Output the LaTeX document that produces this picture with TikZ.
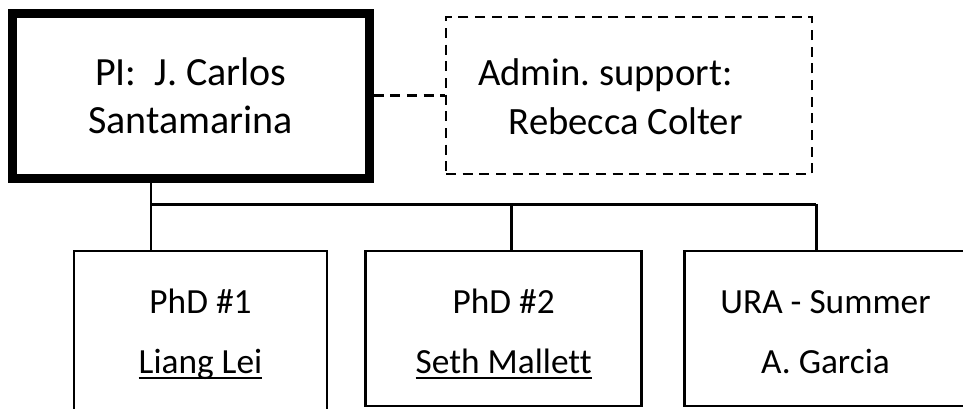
\documentclass[tikz,border=0pt]{standalone}
\usepackage{fontspec}
\setmainfont{Carlito}[Ligatures=NoCommon]
\frenchspacing
\usetikzlibrary{calc}

\newcommand{\ulname}[1]{\setbox0\hbox{#1}\rlap{\rule[-4.6pt]{\wd0}{1.8pt}}\box0}

\tikzset{every picture/.style={line width=2.2pt}}
\tikzset{
  pibox/.style={draw, line width=6.75pt, align=center, text height=56.25pt, text depth=0pt,
    font=\fontsize{30}{35.3}\selectfont},
  adminbox/.style={draw, line width=2pt, dash pattern=on 7.5pt off 5pt, align=flush left,
    inner xsep=24pt, text width=226.5pt, text height=21.4pt, text depth=37.1pt,
    font=\fontsize{29}{37.1}\selectfont},
  studentbox/.style={draw, line width=2.1pt, align=center, text depth=0pt,
    font=\fontsize{26.5}{45}\selectfont},
}

\begin{document}
\begin{tikzpicture}[x=0.75pt,y=0.75pt,yscale=-1,xscale=1]
\useasboundingbox (0,0) rectangle (963,408);

%Shape: Rectangle [id:pi]
\node [pibox, minimum width=267.4pt, minimum height=123.75pt] (pi) at (190.75,95.5) {PI:~~J. Carlos\\Santamarina};
%Shape: Rectangle [id:admin]
\node [adminbox, minimum height=117.75pt] (admin) at (629,95.5) {Admin. support:\\\hspace*{23pt}Rebecca Colter};

%Shape: Rectangle [id:phd1]
\node [studentbox, text height=63.75pt, minimum width=189.75pt, minimum height=119.25pt] (phd1) at (200.5,330.5) {PhD \#1\\\ulname{Liang Lei}};
%Shape: Rectangle [id:phd2]
\node [studentbox, text height=66.75pt, minimum width=207pt, minimum height=116.25pt] (phd2) at (503.7,328.5) {PhD \#2\\\ulname{Seth Mallett}};
%Shape: Rectangle [id:ura]
\node [studentbox, text height=66.75pt, minimum width=211.2pt, minimum height=116.25pt] (ura) at (825.5,328.5) {URA - Summer\\A. Garcia};

% bus points
\coordinate (b1) at (151,204.3);
\coordinate (b2) at (511.7,204.3);
\coordinate (b3) at (816.3,204.3);

%Straight Lines [id:dashed]
\draw [dash pattern=on 7.5pt off 5pt] (pi.east) -- (admin.west);
%Straight Lines [id:bus]
\draw (b1 |- pi.south) -- (b1) -- (b3);
%Straight Lines [id:down]
\draw (b1) -- (b1 |- phd1.north);
\draw (b2) -- (b2 |- phd2.north);
\draw (b3) -- (b3 |- ura.north);

\end{tikzpicture}
\end{document}
